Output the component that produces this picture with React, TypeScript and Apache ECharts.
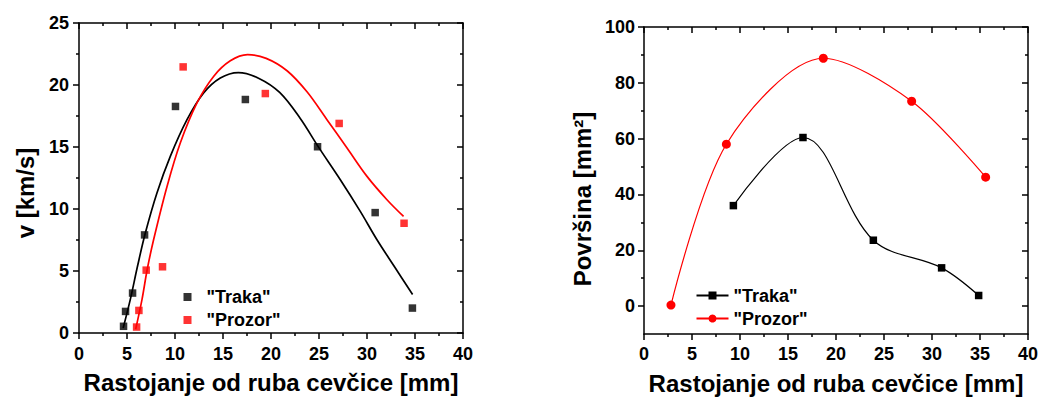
import React, { useEffect, useRef } from "react";
import * as echarts from "echarts";

// ---- Left chart: v [km/s] ----
const trakaVX = [4.64, 4.85, 5.58, 6.83, 10.05, 17.33, 24.85, 30.85, 34.73];
const trakaVY = [0.54, 1.74, 3.22, 7.91, 18.27, 18.83, 15.02, 9.71, 2.01];
const prozorVX = [6.0, 6.24, 7.0, 8.7, 10.85, 19.41, 27.1, 33.86];
const prozorVY = [0.48, 1.82, 5.07, 5.34, 21.46, 19.31, 16.9, 8.85];

// fitted curves
const trakaFitX = [4.6, 5.34, 6.1, 6.91, 8.12, 9.51, 11.25, 12.98, 14.72, 16.6, 18.7, 20.9, 23.05, 24.9, 27.22, 29.3, 31.04, 32.9, 34.75];
const trakaFitY = [0.4, 2.69, 5.4, 8.06, 11.29, 14.24, 17.2, 19.35, 20.56, 21.0, 20.55, 19.4, 17.3, 15.05, 12.36, 9.81, 7.52, 5.3, 3.1];
const prozorFitX = [5.9, 6.56, 7.1, 7.77, 9.17, 10.55, 12.29, 14.02, 15.76, 17.56, 19.5, 21.67, 23.75, 25.83, 27.92, 30.0, 32.08, 33.81];
const prozorFitY = [0.3, 2.69, 5.1, 7.52, 11.82, 15.32, 18.55, 20.69, 21.95, 22.45, 22.15, 21.15, 19.45, 17.2, 14.92, 12.63, 10.75, 9.4];

// ---- Right chart: Površina [mm²] ----
const trakaAX = [9.31, 16.56, 23.89, 31.0, 34.86];
const trakaAY = [36.0, 60.4, 23.6, 13.7, 3.8];
const prozorAX = [2.81, 8.58, 18.68, 27.88, 35.59];
const prozorAY = [0.36, 58.0, 88.8, 73.4, 46.2];

const xTicksMin = 0;
const xTicksMax = 40;
const vMin = 0;
const vMax = 25;
const aMin = -10;
const aMax = 100;
const aLabelValues = [0, 20, 40, 60, 80, 100];
const aMinorValues = [10, 30, 50, 70, 90];

const xTitle = "Rastojanje od ruba cevčice [mm]";
const vTitle = "v [km/s]";
const aTitle = "Površina [mm²]";
const legendNames = ['"Traka"', '"Prozor"'];

const pairs = (xs: number[], ys: number[]) => xs.map((x, i) => [x, ys[i]]);

const FONT = "'Liberation Sans', Arial, sans-serif";
const AX = { color: "#000", width: 1.5 };

export default function App() {
  const ref = useRef<HTMLDivElement>(null);
  useEffect(() => {
    if (!ref.current) return;
    const chart = echarts.init(ref.current, undefined, { renderer: "svg" });
    const label = { color: "#000", fontFamily: FONT, fontWeight: "bold" as const, fontSize: 18 };

    const xBase = (grid: number, pos: "bottom" | "top", margin: number, name?: string, gap?: number) => ({
      type: "value",
      gridIndex: grid,
      position: pos,
      min: xTicksMin,
      max: xTicksMax,
      interval: 5,
      axisLine: { show: true, onZero: false, lineStyle: AX },
      axisTick: { show: true, inside: pos === "top", length: 6, lineStyle: AX },
      minorTick: { show: true, splitNumber: 2, length: 3, lineStyle: AX },
      axisLabel: { show: pos === "bottom", margin, ...label },
      splitLine: { show: false },
      name: name,
      nameLocation: "middle",
      nameGap: gap,
      nameTextStyle: { color: "#000", fontFamily: FONT, fontWeight: "bold", fontSize: 24 },
    });

    const vY = (pos: "left" | "right") => ({
      type: "value",
      gridIndex: 0,
      position: pos,
      min: vMin,
      max: vMax,
      interval: 5,
      axisLine: { show: true, onZero: false, lineStyle: AX },
      axisTick: { show: true, inside: pos === "right", length: 6, lineStyle: AX },
      minorTick: { show: true, splitNumber: 2, length: 3, lineStyle: AX },
      axisLabel: { show: pos === "left", margin: 10, ...label },
      splitLine: { show: false },
    });

    const aY = (pos: "left" | "right", minor: boolean) => ({
      type: "value",
      gridIndex: 1,
      position: pos,
      min: aMin,
      max: aMax,
      interval: 10,
      axisLine: { show: !minor, onZero: false, lineStyle: AX },
      axisTick: {
        show: true,
        inside: pos === "right",
        length: minor ? 3 : 6,
        customValues: minor ? aMinorValues : aLabelValues,
        lineStyle: AX,
      },
      axisLabel: { show: pos === "left" && !minor, margin: 9, customValues: aLabelValues, ...label },
      splitLine: { show: false },
    });

    chart.setOption({
      animation: false,
      backgroundColor: "#fff",
      grid: [
        { left: 79, top: 23, width: 384, height: 310, outerBoundsMode: "none", containLabel: false },
        { left: 644, top: 27, width: 384, height: 307, outerBoundsMode: "none", containLabel: false },
      ],
      xAxis: [
        xBase(0, "bottom", 12, xTitle, 37),
        xBase(0, "top", 12),
        xBase(1, "bottom", 11, xTitle, 37),
        xBase(1, "top", 11),
      ],
      yAxis: [vY("left"), vY("right"), aY("left", false), aY("left", true), aY("right", false), aY("right", true)],
      legend: [
        {
          data: legendNames,
          orient: "vertical",
          left: 178.5,
          top: 283,
          itemWidth: 8,
          itemHeight: 8,
          itemGap: 5,
          textStyle: { color: "#000", fontFamily: FONT, fontWeight: "bold", fontSize: 18, lineHeight: 18, padding: [0, 0, 0, 10] },
          selectedMode: false,
        },
        {
          data: ["TrakaA", "ProzorA"],
          orient: "vertical",
          left: 690.5,
          top: 281.5,
          itemWidth: 32,
          itemHeight: 10,
          itemGap: 5,
          formatter: (n: string) => (n === "TrakaA" ? legendNames[0] : legendNames[1]),
          textStyle: { color: "#000", fontFamily: FONT, fontWeight: "bold", fontSize: 18, lineHeight: 18 },
          selectedMode: false,
        },
      ],
      graphic: [
        {
          type: "text",
          x: 25,
          y: 193,
          rotation: Math.PI / 2,
          style: { text: vTitle, fill: "#000", font: `bold 24px ${FONT}`, textAlign: "center", textVerticalAlign: "middle" },
        },
        {
          type: "text",
          x: 582,
          y: 199,
          rotation: Math.PI / 2,
          style: { text: aTitle, fill: "#000", font: `bold 24px ${FONT}`, textAlign: "center", textVerticalAlign: "middle" },
        },
      ],
      series: [
        {
          name: "fitTraka",
          type: "line",
          xAxisIndex: 0,
          yAxisIndex: 0,
          data: pairs(trakaFitX, trakaFitY),
          smooth: 0.35,
          showSymbol: false,
          lineStyle: { color: "#000", width: 1.7 },
          z: 2,
        },
        {
          name: "fitProzor",
          type: "line",
          xAxisIndex: 0,
          yAxisIndex: 0,
          data: pairs(prozorFitX, prozorFitY),
          smooth: 0.35,
          showSymbol: false,
          lineStyle: { color: "#ff0000", width: 1.7 },
          z: 2,
        },
        {
          name: legendNames[0],
          type: "scatter",
          xAxisIndex: 0,
          yAxisIndex: 0,
          data: pairs(trakaVX, trakaVY),
          symbol: "rect",
          symbolSize: 7.5,
          itemStyle: { color: "#000" },
          z: 3,
        },
        {
          name: legendNames[1],
          type: "scatter",
          xAxisIndex: 0,
          yAxisIndex: 0,
          data: pairs(prozorVX, prozorVY),
          symbol: "rect",
          symbolSize: 7.5,
          itemStyle: { color: "#ff0000" },
          z: 3,
        },
        {
          name: "TrakaA",
          type: "line",
          xAxisIndex: 2,
          yAxisIndex: 2,
          data: pairs(trakaAX, trakaAY),
          smooth: 0.35,
          symbol: "rect",
          symbolSize: 7.5,
          itemStyle: { color: "#000" },
          lineStyle: { color: "#000", width: 1.2 },
          z: 3,
        },
        {
          name: "ProzorA",
          type: "line",
          xAxisIndex: 2,
          yAxisIndex: 2,
          data: pairs(prozorAX, prozorAY),
          smooth: 0.3,
          symbol: "circle",
          symbolSize: 9,
          itemStyle: { color: "#ff0000" },
          lineStyle: { color: "#ff0000", width: 1.2 },
          z: 3,
        },
      ],
    });
    return () => chart.dispose();
  }, []);
  return <div ref={ref} style={{ position: "fixed", left: 0, top: 0, width: 1039, height: 398 }} />;
}
